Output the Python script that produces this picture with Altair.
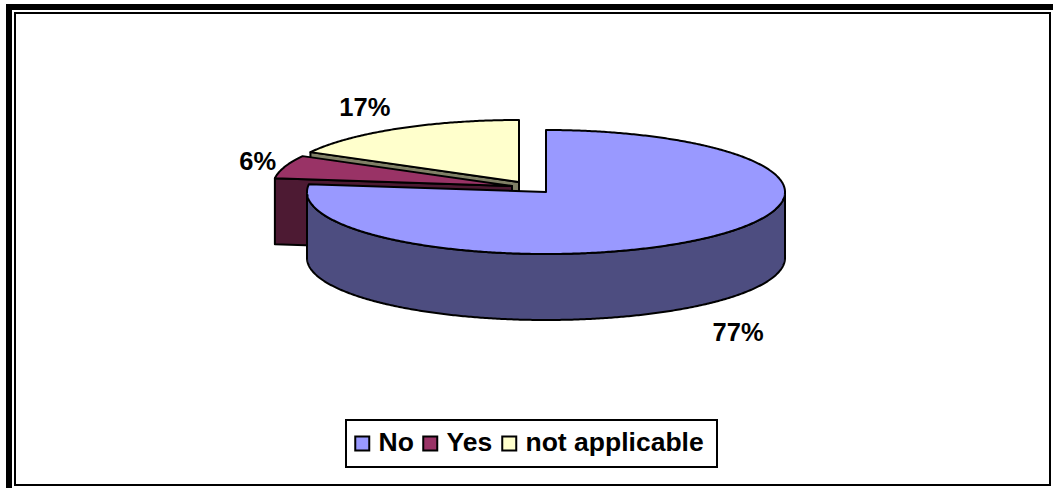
import altair as alt
import numpy as np

# Survey answers and their shares, in the order they run clockwise from 12 o'clock
categories = ["No", "Yes", "not applicable"]
shares = [77, 6, 17]
top_colors = ["#9999ff", "#993366", "#ffffcc"]
side_colors = ["#4d4d80", "#4d1a33", "#808066"]

FONT = "Liberation Sans"
RY = 62               # vertical radius of the tilted disc
DEPTH = 66            # height of the disc wall
# Each slice is pulled away from the middle by a different amount
centres = {"No": (546, 192), "Yes": (512, 186), "not applicable": (519, 182)}
radii_x = {"No": 239, "Yes": 239, "not applicable": 238}
label_gaps = {"No": (34, 94), "Yes": (-27, -5), "not applicable": (-33, -21)}


def rim(cat, angle):
    """Point on a slice's rim; the angle is in degrees clockwise from north."""
    cx, cy = centres[cat]
    t = np.radians(angle)
    return cx + radii_x[cat] * np.sin(t), cy - RY * np.cos(t)


def arc(cat, a0, a1, dy=0):
    n = max(int(abs(a1 - a0) * 2), 2)
    return [[float(x), float(y + dy)] for x, y in (rim(cat, a) for a in np.linspace(a0, a1, n))]


def feature(name, ring):
    ring = ring + [ring[0]]
    return {"type": "Feature", "properties": {"name": name}, "geometry": {"type": "Polygon", "coordinates": [ring]}}


starts = np.cumsum([0] + shares[:-1]) * 3.6
ends = np.cumsum(shares) * 3.6
spans = {c: (float(s), float(e)) for c, s, e in zip(categories, starts, ends)}

features = []
for cat in ["not applicable", "Yes", "No"]:
    a0, a1 = spans[cat]
    centre = [float(v) for v in centres[cat]]
    if cat == "No":
        # outer wall along the near half of the disc
        wall = arc(cat, 90, 270) + arc(cat, 270, 90, DEPTH)
    else:
        # the cut face that looks towards the viewer
        p = [float(v) for v in rim(cat, a0)]
        wall = [p, centre, [centre[0], centre[1] + DEPTH], [p[0], p[1] + DEPTH]]
    features.append(feature(cat + " wall", wall))
    features.append(feature(cat, [centre] + arc(cat, a0, a1)))

names = categories + [c + " wall" for c in categories]
colours = top_colors + side_colors

pie = (
    alt.Chart(alt.Data(values=features))
    .mark_geoshape(stroke="black", strokeWidth=2, strokeJoin="round")
    .encode(
        color=alt.Color(
            "properties.name:N",
            scale=alt.Scale(domain=names, range=colours),
            legend=alt.Legend(
                values=categories,
                title=None,
                orient="none",
                legendX=346,
                legendY=427,
                direction="horizontal",
                columns=3,
                symbolType="square",
                symbolSize=196,
                symbolStrokeColor="black",
                symbolStrokeWidth=2,
                symbolOpacity=1,
                labelFont=FONT,
                labelFontWeight="bold",
                labelFontSize=26.5,
                labelColor="black",
                labelLimit=300,
                labelOffset=3,
                columnPadding=3,
                padding=3,
            ),
        )
    )
    .project(type="identity", scale=1, translate=[0, 0])
)

label_rows = []
for cat, share in zip(categories, shares):
    a0, a1 = spans[cat]
    x, y = rim(cat, (a0 + a1) / 2)
    gx, gy = label_gaps[cat]
    label_rows.append({"lon": float(x + gx), "lat": float(y + gy), "text": f"{share}%"})

labels = (
    alt.Chart(alt.Data(values=label_rows))
    .mark_text(font=FONT, fontWeight="bold", fontSize=25.5, color="black", align="center", baseline="middle")
    .encode(longitude="lon:Q", latitude="lat:Q", text="text:N")
    .project(type="identity", scale=1, translate=[0, 0])
)

# Double border round the whole figure
thick_top = alt.Chart().mark_rect(color="black").encode(
    x=alt.value(6), x2=alt.value(1053), y=alt.value(4), y2=alt.value(10))
thick_left = alt.Chart().mark_rect(color="black").encode(
    x=alt.value(6), x2=alt.value(12), y=alt.value(4), y2=alt.value(488))
thin_box = alt.Chart().mark_rect(fill="transparent", stroke="black", strokeWidth=2).encode(
    x=alt.value(15), x2=alt.value(1050), y=alt.value(13), y2=alt.value(485))
# Frame round the legend
legend_box = alt.Chart().mark_rect(fill="white", stroke="black", strokeWidth=2).encode(
    x=alt.value(346), x2=alt.value(717), y=alt.value(420), y2=alt.value(467))

chart = (
    alt.layer(thin_box, thick_top, thick_left, legend_box, pie, labels)
    .properties(width=1053, height=488, padding=0, autosize=alt.AutoSizeParams(type="none"), background="white")
    .configure_view(stroke=None)
)

chart.save("out.html", embed_options={"renderer": "svg", "actions": False})
